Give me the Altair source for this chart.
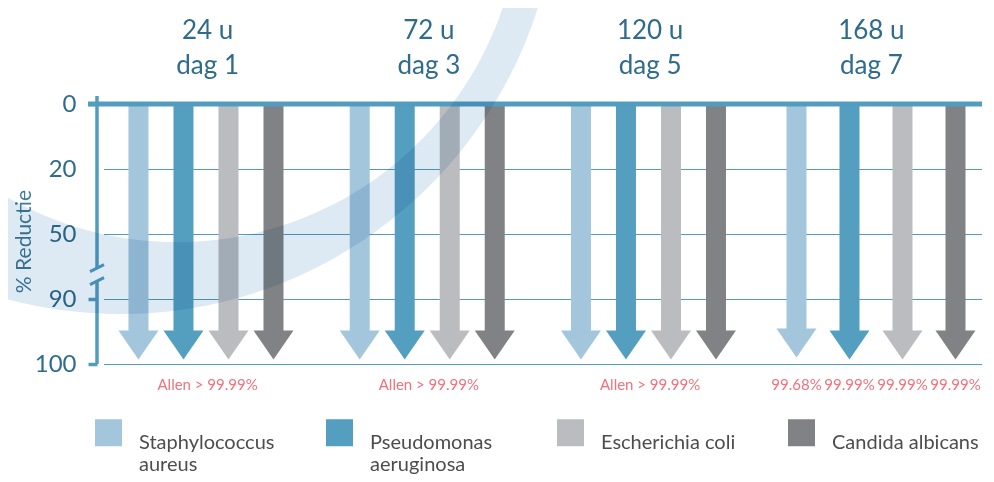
import altair as alt
import pandas as pd

# ---------------- data ----------------
groups = ["24 u|dag 1", "72 u|dag 3", "120 u|dag 5", "168 u|dag 7"]
series = ["Staphylococcus aureus", "Pseudomonas aeruginosa", "Escherichia coli", "Candida albicans"]
colors = ["#a3c6dd", "#549fc0", "#bbbcc0", "#808285"]

reduction_dag1 = [99.99, 99.99, 99.99, 99.99]
reduction_dag3 = [99.99, 99.99, 99.99, 99.99]
reduction_dag5 = [99.99, 99.99, 99.99, 99.99]
reduction_dag7 = [99.68, 99.99, 99.99, 99.99]

group_notes = ["Allen > 99.99%", "Allen > 99.99%", "Allen > 99.99%"]
dag7_notes = ["99.68%", "99.99%", "99.99%", "99.99%"]

y_ticks = [0, 20, 50, 90, 100]
axis_break = [71, 79]

# ---------------- tables ----------------
rows_a = []
for g, vals in zip(groups[:3], [reduction_dag1, reduction_dag3, reduction_dag5]):
    for s, v in zip(series, vals):
        rows_a.append({"group": g, "series": s, "value": v})
df_a = pd.DataFrame(rows_a)
df_b = pd.DataFrame({"group": groups[3], "series": series, "value": reduction_dag7, "note": dag7_notes})
df_notes = pd.DataFrame({"group": groups[:3], "note": group_notes})
df_grid = pd.DataFrame({"tick": y_ticks[1:]})
df_break = pd.DataFrame({"b": axis_break})
df_one = pd.DataFrame({"k": [0]})

# ---------------- styles ----------------
W, H = 885, 260
LINE = "#529dbf"
TEXT = "#2f6b8a"
RED = "#f2717c"
FONT = "Lato"
HEAD = "M -1 -0.725 L 1 -0.725 L 0 0.725 Z"
SLASH = "M -1 0.5 L 1 -0.5"
CRESCENT = ("M -1 0 A 1 1 0 1 1 1 0 A 1 1 0 1 1 -1 0 Z "
            "M -0.6542 0.0516 A 0.7842 0.7842 0 1 0 0.9142 0.0516 "
            "A 0.7842 0.7842 0 1 0 -0.6542 0.0516 Z")

y_scale = alt.Scale(domain=y_ticks, range=[0, H * 0.25, H * 0.5, H * 0.75, H], nice=False, zero=False)
x_scale = alt.Scale(domain=groups, paddingInner=0, paddingOuter=0)

y_axis = alt.Axis(
    values=y_ticks, title="% Reductie", titleX=-67, titleY=137, titleAngle=270,
    titleAlign="center", titleBaseline="alphabetic", titleFont=FONT, titleFontSize=21,
    titleFontWeight="normal", titleColor="#3d7b9b",
    labelFont=FONT, labelFontSize=24, labelColor=TEXT, labelPadding=12,
    tickSize=9, tickWidth=3.5,
    tickColor={"condition": {"test": "datum.value == 20 || datum.value == 50", "value": "transparent"}, "value": LINE},
    domain=False, grid=False,
)
x_axis = alt.Axis(
    orient="top", title=None, domain=False, ticks=False, tickSize=0,
    labelExpr="split(datum.label, '|')", labelFont=FONT, labelFontSize=26,
    labelColor=TEXT, labelLineHeight=35, labelPadding=61, labelBaseline="bottom", labelAngle=0,
)
legend = alt.Legend(
    orient="none", legendX=-2, legendY=315, direction="horizontal", columns=4,
    gridAlign="all", columnPadding=40, padding=0, title=None,
    symbolType="square", symbolSize=729, symbolStrokeWidth=0, symbolOpacity=1,
    labelFont=FONT, labelFontSize=20, labelColor="#4d4d4f", labelOffset=17, labelLimit=400,
    labelBaseline="top",
    labelExpr="indexof(['Staphylococcus aureus', 'Pseudomonas aeruginosa'], datum.label) >= 0 ? split(datum.label, ' ') : [datum.label, '']",
)
color_enc = alt.Color("series:N", sort=series, scale=alt.Scale(domain=series, range=colors), legend=legend)
x_enc = alt.X("group:N", sort=groups, scale=x_scale, axis=x_axis)


def xo(pad, align):
    return alt.XOffset("series:N", sort=series,
                       scale=alt.Scale(type="band", domain=series, paddingInner=0,
                                       paddingOuter=pad, align=align))


xo_a = xo(0.458, 0.46)
xo_b = xo(0.087, 1.0)


def yv(field):
    return alt.Y(field, scale=y_scale, axis=y_axis)


def yd(v):
    return alt.YDatum(v, scale=y_scale, axis=y_axis)


# ---------------- layers ----------------
grid = alt.Chart(df_grid).mark_rule(color=LINE, strokeWidth=1, yOffset=0.5).encode(
    y=yv("tick:Q"), x=alt.value(7), x2=alt.value(W)
)

shaft_a = alt.Chart(df_a).mark_bar(width=20, yOffset=-33).encode(
    x=x_enc, xOffset=xo_a, y=yv("value:Q"), y2=alt.datum(0), color=color_enc,
)
head_a = alt.Chart(df_a).mark_point(shape=HEAD, size=1600, filled=True, opacity=1, strokeWidth=0, yOffset=-19).encode(
    x=x_enc, xOffset=xo_a, y=yv("value:Q"), color=color_enc,
)
notes_a = alt.Chart(df_notes).mark_text(dy=21, font=FONT, fontSize=15, color=RED).encode(
    x=x_enc, y=yd(100), text="note:N",
)

shaft_b = alt.Chart(df_b).mark_bar(width=20, yOffset=-33).encode(
    x=x_enc, xOffset=xo_b, y=yv("value:Q"), y2=alt.datum(0), color=color_enc,
)
head_b = alt.Chart(df_b).mark_point(shape=HEAD, size=1600, filled=True, opacity=1, strokeWidth=0, yOffset=-19).encode(
    x=x_enc, xOffset=xo_b, y=yv("value:Q"), color=color_enc,
)
notes_b = alt.Chart(df_b).mark_text(dy=21, font=FONT, fontSize=15, color=RED).encode(
    x=x_enc, xOffset=xo_b, y=yd(100), text="note:N",
)

top_line = alt.Chart(df_one).mark_rule(color=LINE, strokeWidth=5).encode(
    y=yd(0), x=alt.value(-9), x2=alt.value(W)
)
axis_top = alt.Chart(df_one).mark_rule(color=LINE, strokeWidth=3.5, yOffset=-8).encode(
    x=alt.value(0), y=yd(0), y2=alt.datum(axis_break[0])
)
axis_bottom = alt.Chart(df_one).mark_rule(color=LINE, strokeWidth=3.5).encode(
    x=alt.value(0), y=yd(axis_break[1]), y2=alt.datum(100)
)
breaks = alt.Chart(df_break).mark_point(shape=SLASH, size=196, filled=False, strokeWidth=3, color=LINE, opacity=1).encode(
    x=alt.value(0), y=yv("b:Q")
)
swoosh = alt.Chart(df_one).mark_point(shape=CRESCENT, size=767376, filled=True, opacity=1, strokeWidth=0,
                                      color="#dde9f3", blend="multiply").encode(
    x=alt.value(23), y=alt.value(-228)
)

chart = alt.layer(
    grid, shaft_a, head_a, notes_a, shaft_b, head_b, notes_b,
    top_line, axis_top, axis_bottom, breaks, swoosh,
).resolve_scale(xOffset="independent").properties(
    width=W, height=H,
    padding={"left": 89, "top": 96, "right": 4, "bottom": 110},
    autosize=alt.AutoSizeParams(type="none"),
).configure_view(strokeWidth=0)

chart.save("out.html", embed_options={"renderer": "svg", "actions": False})
